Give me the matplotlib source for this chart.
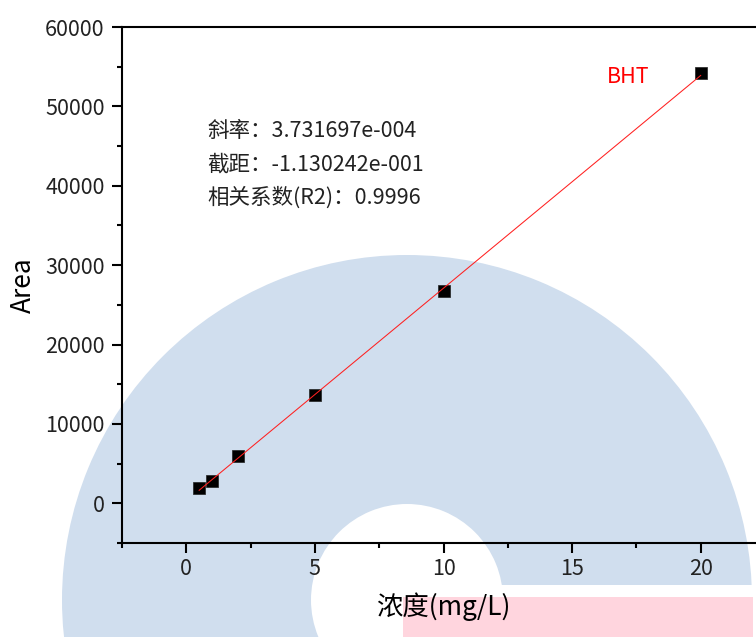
import matplotlib
matplotlib.use('Agg')
import numpy as np
import matplotlib.pyplot as plt
from matplotlib.patches import Wedge, Rectangle
from matplotlib.transforms import Affine2D
from matplotlib.ticker import MultipleLocator

# 标准曲线数据
conc = [0.5, 1, 2, 5, 10, 20]
area = [1900, 2800, 5900, 13700, 26700, 54200]
slope = 3.731697e-004
intercept = -1.130242e-001
r2 = 0.9996
series_name = 'BHT'

plt.rcParams['font.family'] = ['Noto Sans CJK SC', 'DejaVu Sans']
plt.rcParams['axes.unicode_minus'] = False

W, H = 756, 637
fig = plt.figure(figsize=(W / 100, H / 100), dpi=100)

# 背景水印 (像素坐标, y 向下)
px = Affine2D().scale(1 / W, -1 / H).translate(0, 1) + fig.transFigure
fig.patches.append(Wedge((407, 600), 345, 0, 360, width=249, transform=px,
                         facecolor='#d0deee', edgecolor='none', zorder=-3))
fig.patches.append(Rectangle((407, 585), 360, 60, transform=px,
                             facecolor='white', edgecolor='none', zorder=-2))
fig.patches.append(Rectangle((403, 597), 350, 50, transform=px,
                             facecolor='#ffd5de', edgecolor='none', zorder=-1))

ax = fig.add_axes([122 / W, 1 - 543 / H, (765 - 122) / W, (543 - 27) / H])
ax.set_facecolor('none')

ax.scatter(conc, area, marker='s', s=72, color='black', edgecolors='#222222',
           linewidths=0.5, zorder=3)

# 拟合线: 浓度 = slope * Area + intercept
fit_x = np.array([min(conc), max(conc)])
fit_y = (fit_x - intercept) / slope
ax.plot(fit_x, fit_y, color='#ff2020', lw=0.75, zorder=4)

ax.set_xlim(-2.5, 22.5)
ax.set_ylim(-5000, 60000)
ax.xaxis.set_major_locator(MultipleLocator(5))
ax.xaxis.set_minor_locator(MultipleLocator(2.5))
ax.yaxis.set_major_locator(MultipleLocator(10000))
ax.yaxis.set_minor_locator(MultipleLocator(5000))

for s in ax.spines.values():
    s.set_linewidth(1.5)
ax.tick_params(which='major', direction='out', length=7, width=1.5,
               labelsize=15.5, colors='black', pad=3.5)
ax.tick_params(which='minor', direction='out', length=3.6, width=1.5)
ax.tick_params(axis='y', pad=5.5)
for lbl in ax.get_xticklabels() + ax.get_yticklabels():
    lbl.set_color('#222222')

ax.set_xlabel('浓度(mg/L)', fontsize=19, labelpad=9)
ax.set_ylabel('Area', fontsize=19, labelpad=6)

info = [f'斜率：{slope:.6e}'.replace('e-04', 'e-004'),
        f'截距：{intercept:.6e}'.replace('e-01', 'e-001'),
        f'相关系数(R2)：{r2}']
for i, t in enumerate(info):
    fig.text(207 / W, 1 - (131 + 33.3 * i) / H, t, fontsize=15.5,
             color='#222222', va='center', ha='left')
fig.text(628 / W, 1 - 77 / H, series_name, fontsize=15.5, color='red',
         va='center', ha='center')

fig.savefig('out.png', dpi=100)
